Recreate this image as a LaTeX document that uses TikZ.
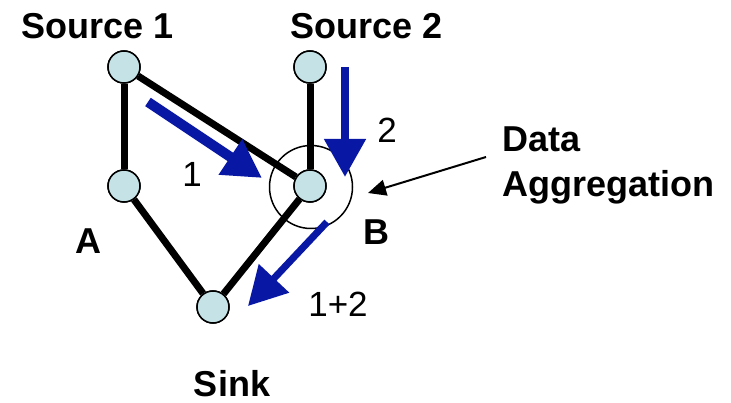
\documentclass[tikz,border=0pt]{standalone}
\usepackage{fontspec}
\setmainfont{Liberation Sans}
\usetikzlibrary{arrows.meta}
\definecolor{nodefill}{RGB}{197,227,230}
\definecolor{flowblue}{RGB}{8,24,165}
\begin{document}
\begin{tikzpicture}[x=1pt,y=-1pt,
  sensor/.style={circle,draw=black,line width=1.5pt,fill=nodefill,minimum size=32pt,inner sep=0pt},
  link/.style={line width=7pt,black},
  flow/.style={line width=10pt,flowblue,-{Triangle[length=38pt,width=40pt]}},
  lbl/.style={font=\fontsize{36}{40}\selectfont\bfseries,anchor=base,inner sep=0pt},
  num/.style={font=\fontsize{35}{40}\selectfont,anchor=base,inner sep=0pt}]
\useasboundingbox (0,0) rectangle (731,403);
% routing tree
\node[sensor] (s1) at (124,67) {};
\node[sensor] (s2) at (310,67) {};
\node[sensor] (a) at (124,186) {};
\node[sensor] (b) at (310,186) {};
\node[sensor] (sink) at (213,307) {};
\draw[link] (s1) -- (a);
\draw[link] (s1) -- (b);
\draw[link] (s2) -- (b);
\draw[link] (a) -- (sink);
\draw[link] (b) -- (sink);
% redraw nodes on top of the links
\node[sensor] at (s1) {};
\node[sensor] at (s2) {};
\node[sensor] at (a) {};
\node[sensor] at (b) {};
\node[sensor] at (sink) {};
% aggregation ring
\node[circle,draw=black,line width=1.5pt,minimum size=83pt,inner sep=0pt] (ring) at (311,187) {};
% data flows
\coordinate (f1s) at (148,102);
\coordinate (f1e) at (262,178);
\coordinate (f2s) at (345,67);
\coordinate (f2e) at (345,177);
\coordinate (f3s) at (327,222);
\coordinate (f3e) at (248,306);
\draw[flow] (f1s) -- (f1e);
\draw[flow,line width=8pt] (f2s) -- (f2e);
\draw[flow,line width=7pt] (f3s) -- (f3e);
% labels
\node[lbl] (ls1) at (98,39) {Source 1};
\node[lbl] (ls2) at (367,39) {Source 2};
\node[lbl] (la) at (88,254) {A};
\node[lbl] (lb) at (376,245) {B};
\node[lbl] (lsink) at (232,396) {Sink};
\node[num] (n1) at (192,187) {1};
\node[num] (n2) at (387,143) {2};
\node[num] (n12) at (338,317) {1+2};
\node[lbl,anchor=base west] (agg1) at (502,152) {Data};
\node[lbl,anchor=base west] (agg2) at (502,197) {Aggregation};
\coordinate (pt) at (486,157);
\draw[line width=2pt,-{Triangle[length=18pt,width=16pt]}] (pt) -- (368,193);
\end{tikzpicture}
\end{document}
